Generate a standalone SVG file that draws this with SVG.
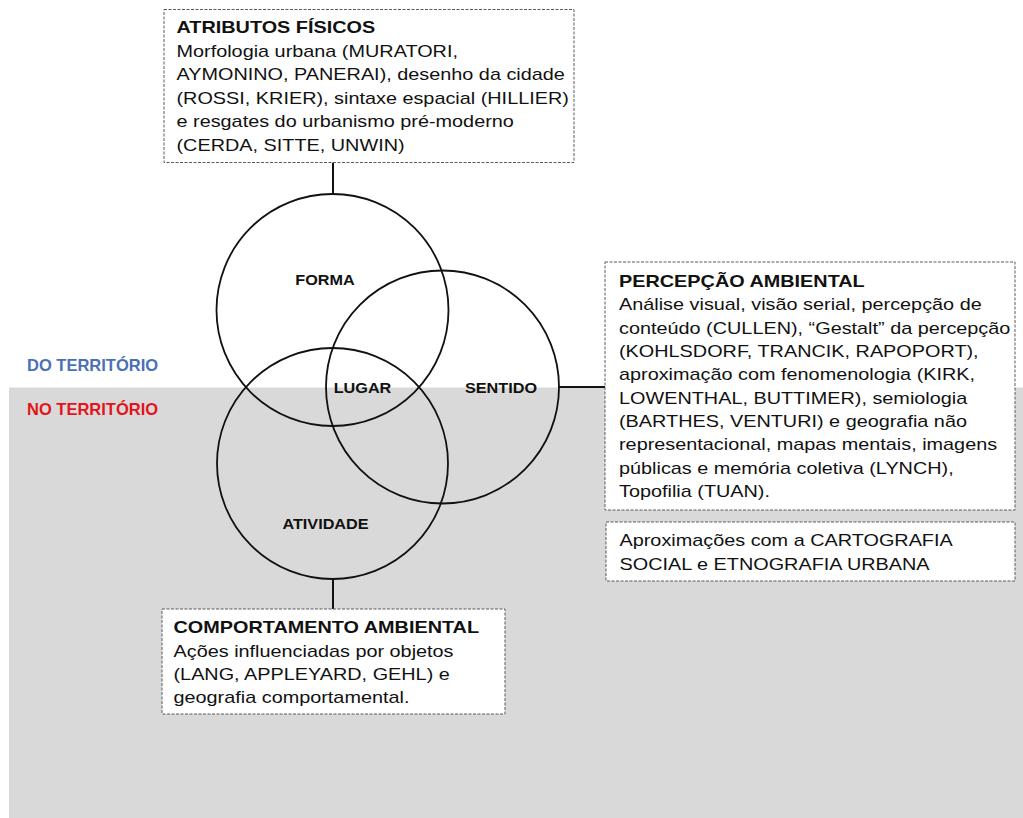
<svg xmlns="http://www.w3.org/2000/svg" width="1023" height="818" viewBox="0 0 1023 818">
  <style>
    .box { fill: #ffffff; stroke: #5a5a5a; stroke-width: 1; stroke-dasharray: 3 1.5; }
    .ring { fill: none; stroke: #111111; stroke-width: 1.8; }
    .link { stroke: #111111; stroke-width: 2; fill: none; }
    .t { font-family: "Liberation Sans", Arial, sans-serif; font-size: 16px; fill: #111111; }
    .b { font-weight: bold; }
    .lbl { font-family: "Liberation Sans", Arial, sans-serif; font-size: 15px; font-weight: bold; fill: #111111; text-anchor: middle; }
    .zone { font-family: "Liberation Sans", Arial, sans-serif; font-size: 16.5px; font-weight: bold; }
  </style>

  <!-- background: white upper half, grey lower band -->
  <rect x="0" y="0" width="1023" height="818" fill="#ffffff"/>
  <rect x="9" y="387.5" width="1014" height="430.5" fill="#d9d9d9"/>

  <!-- zone labels -->
  <g id="zone-labels">
    <text class="zone" x="27" y="370.5" fill="#4a70b8">DO TERRITÓRIO</text>
    <text class="zone" x="27" y="415" fill="#e3141c">NO TERRITÓRIO</text>
  </g>

  <!-- connectors between circles and text boxes -->
  <g id="connectors">
    <line class="link" x1="333" y1="162.5" x2="333" y2="194"/>
    <line class="link" x1="333" y1="579" x2="333" y2="609"/>
    <line class="link" x1="558.5" y1="387" x2="605" y2="387"/>
  </g>

  <!-- Venn circles -->
  <g id="forma">
    <circle class="ring" cx="332.5" cy="310" r="116"/>
    <text class="lbl" transform="translate(325,285.2) scale(1.08,1)" x="0" y="0">FORMA</text>
  </g>
  <g id="sentido">
    <circle class="ring" cx="442.5" cy="387" r="116.5"/>
    <text class="lbl" transform="translate(501,393.3) scale(1.08,1)" x="0" y="0">SENTIDO</text>
  </g>
  <g id="atividade">
    <circle class="ring" cx="332.5" cy="463.5" r="115.5"/>
    <text class="lbl" transform="translate(325.5,529) scale(1.08,1)" x="0" y="0">ATIVIDADE</text>
  </g>
  <g id="lugar">
    <text class="lbl" transform="translate(362.5,393.3) scale(1.08,1)" x="0" y="0">LUGAR</text>
  </g>

  <!-- physical attributes box -->
  <g id="atributos-fisicos">
    <rect class="box" x="164" y="9.5" width="410" height="153"/>
    <g transform="translate(176.5,0) scale(1.24,1)">
      <text class="t b" x="0" y="33.5">ATRIBUTOS FÍSICOS</text>
      <text class="t" x="0" y="57">Morfologia urbana (MURATORI,</text>
      <text class="t" x="0" y="80.5">AYMONINO, PANERAI), desenho da cidade</text>
      <text class="t" x="0" y="104">(ROSSI, KRIER), sintaxe espacial (HILLIER)</text>
      <text class="t" x="0" y="127.5">e resgates do urbanismo pré-moderno</text>
      <text class="t" x="0" y="151">(CERDA, SITTE, UNWIN)</text>
    </g>
  </g>

  <!-- environmental perception box -->
  <g id="percepcao-ambiental">
    <rect class="box" x="605" y="262" width="410" height="248"/>
    <g transform="translate(619,0) scale(1.24,1)">
      <text class="t b" x="0" y="287">PERCEPÇÃO AMBIENTAL</text>
      <text class="t" x="0" y="310.5">Análise visual, visão serial, percepção de</text>
      <text class="t" x="0" y="333.8">conteúdo (CULLEN), “Gestalt” da percepção</text>
      <text class="t" x="0" y="357.1">(KOHLSDORF, TRANCIK, RAPOPORT),</text>
      <text class="t" x="0" y="380.4">aproximação com fenomenologia (KIRK,</text>
      <text class="t" x="0" y="403.7">LOWENTHAL, BUTTIMER), semiologia</text>
      <text class="t" x="0" y="427">(BARTHES, VENTURI) e geografia não</text>
      <text class="t" x="0" y="450.3">representacional, mapas mentais, imagens</text>
      <text class="t" x="0" y="473.6">públicas e memória coletiva (LYNCH),</text>
      <text class="t" x="0" y="496.9">Topofilia (TUAN).</text>
    </g>
  </g>

  <!-- social cartography box -->
  <g id="cartografia-social">
    <rect class="box" x="606" y="522" width="409" height="59"/>
    <g transform="translate(619.5,0) scale(1.24,1)">
      <text class="t" x="0" y="546.5">Aproximações com a CARTOGRAFIA</text>
      <text class="t" x="0" y="570">SOCIAL e ETNOGRAFIA URBANA</text>
    </g>
  </g>

  <!-- environmental behaviour box -->
  <g id="comportamento-ambiental">
    <rect class="box" x="162" y="609" width="343" height="105"/>
    <g transform="translate(173.5,0) scale(1.24,1)">
      <text class="t b" x="0" y="633.3">COMPORTAMENTO AMBIENTAL</text>
      <text class="t" x="0" y="656.7">Ações influenciadas por objetos</text>
      <text class="t" x="0" y="680">(LANG, APPLEYARD, GEHL) e</text>
      <text class="t" x="0" y="703">geografia comportamental.</text>
    </g>
  </g>
</svg>
